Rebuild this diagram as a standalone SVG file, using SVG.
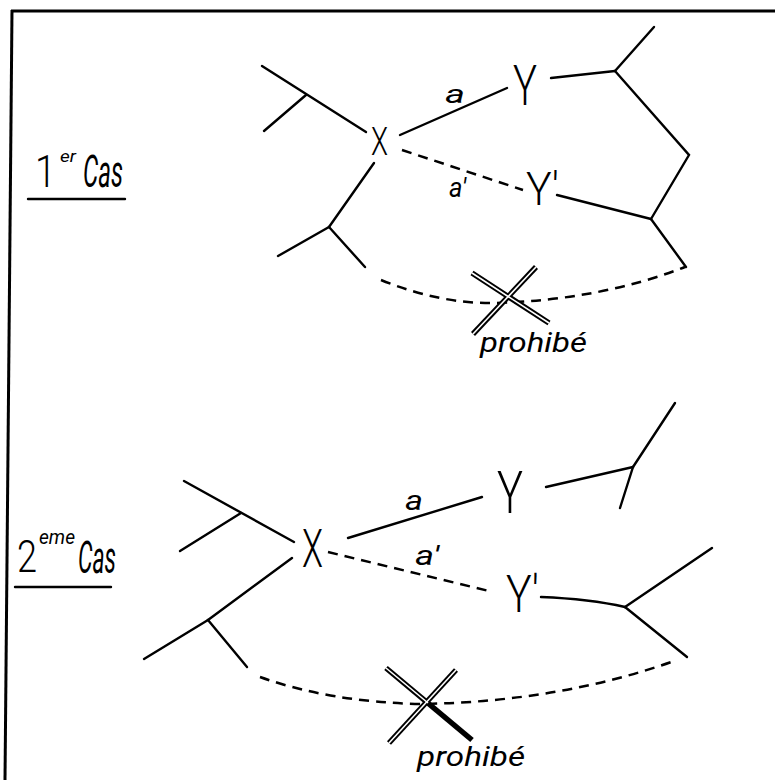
<svg xmlns="http://www.w3.org/2000/svg" width="775" height="780" viewBox="0 0 775 780">
<style>
.ln{stroke:#000;stroke-width:2.4;fill:none;stroke-linecap:round}
.ds{stroke:#000;stroke-width:2.5;fill:none;stroke-dasharray:10 7}
.cb{stroke:#000;stroke-width:5.5;fill:none}
.cw{stroke:#fff;stroke-width:1.6;fill:none}
.frame{stroke:#000;stroke-width:3;fill:none}
.lt{font-family:Roboto,"Open Sans","Liberation Sans",sans-serif;font-weight:300;fill:#000}
.hw{font-family:Roboto,"Open Sans","Liberation Sans",sans-serif;font-style:italic;font-weight:400;fill:#000}
</style>
<rect width="775" height="780" fill="#fff"/>
<g id="frame">
<line class="frame" x1="11" y1="11" x2="775" y2="11"/>
<line class="frame" x1="12" y1="10" x2="5" y2="780"/>
</g>

<g id="connectors">
<!-- case 1 -->
<line class="ln" x1="262" y1="66" x2="366" y2="132"/>
<line class="ln" x1="306" y1="95" x2="264" y2="131"/>
<line class="ln" x1="400" y1="135" x2="507" y2="88"/>
<line class="ln" x1="551" y1="78" x2="615" y2="71"/>
<line class="ln" x1="615" y1="71" x2="654" y2="27"/>
<polyline class="ln" points="615,71 689,155 651,219"/>
<line class="ln" x1="557" y1="195" x2="651" y2="219"/>
<line class="ln" x1="651" y1="219" x2="686" y2="267"/>
<line class="ds" x1="402" y1="150" x2="523" y2="190"/>
<line class="ln" x1="374" y1="163" x2="329" y2="227"/>
<line class="ln" x1="329" y1="227" x2="278" y2="256"/>
<line class="ln" x1="329" y1="227" x2="365" y2="267"/>
<path class="ds" d="M381,280 Q440,304 495,303 Q600,300 685,267"/>
<!-- case 2 -->
<line class="ln" x1="184" y1="481" x2="294" y2="542"/>
<line class="ln" x1="241" y1="513" x2="180" y2="551"/>
<line class="ln" x1="348" y1="538" x2="482" y2="497"/>
<line class="ln" x1="546" y1="487" x2="633" y2="467"/>
<line class="ln" x1="633" y1="467" x2="675" y2="403"/>
<line class="ln" x1="633" y1="467" x2="620" y2="508"/>
<path class="ln" d="M541,597 Q590,599 625,607"/>
<line class="ln" x1="625" y1="607" x2="712" y2="548"/>
<line class="ln" x1="625" y1="607" x2="687" y2="657"/>
<line class="ds" x1="328" y1="552" x2="493" y2="592"/>
<line class="ln" x1="292" y1="558" x2="208" y2="620"/>
<line class="ln" x1="208" y1="620" x2="144" y2="659"/>
<line class="ln" x1="208" y1="620" x2="247" y2="667"/>
<path class="ds" d="M260,677 Q330,702 420,704 Q560,702 677,660"/>
</g>

<g id="cross1">
<line class="cb" x1="472" y1="273" x2="549" y2="323"/>
<line class="cb" x1="536" y1="267" x2="473" y2="334"/>
<line class="cw" x1="472" y1="273" x2="549" y2="323"/>
<line class="cw" x1="536" y1="267" x2="473" y2="334"/>
</g>
<g id="cross2">
<line class="cb" x1="386" y1="668" x2="472" y2="740"/>
<line class="cb" x1="456" y1="670" x2="389" y2="743"/>
<line class="cw" x1="386" y1="668" x2="428" y2="703"/>
<line class="cw" x1="456" y1="670" x2="389" y2="743"/>
</g>

<g id="label-case1">
<text class="lt" x="35" y="187" font-size="45" textLength="21" lengthAdjust="spacingAndGlyphs">1</text>
<text class="hw" x="60" y="162" font-size="16" textLength="16" lengthAdjust="spacingAndGlyphs">er</text>
<text class="hw" x="83" y="187" font-size="44" textLength="40" lengthAdjust="spacingAndGlyphs">Cas</text>
<line class="ln" x1="28" y1="199" x2="125" y2="199"/>
</g>
<g id="label-case2">
<text class="lt" x="17" y="572" font-size="44" textLength="20" lengthAdjust="spacingAndGlyphs">2</text>
<text class="hw" x="39" y="544" font-size="20" textLength="36" lengthAdjust="spacingAndGlyphs">eme</text>
<text class="hw" x="78" y="573" font-size="44" textLength="38" lengthAdjust="spacingAndGlyphs">Cas</text>
<line class="ln" x1="15" y1="587" x2="111" y2="587"/>
</g>

<g id="node-X1"><text class="lt" x="371" y="155" font-size="39" textLength="17" lengthAdjust="spacingAndGlyphs">X</text></g>
<g id="node-Y1"><text class="lt" x="513" y="105" font-size="56" textLength="24" lengthAdjust="spacingAndGlyphs">Y</text></g>
<g id="node-Y1p"><text class="lt" x="526" y="205" font-size="46" textLength="33" lengthAdjust="spacingAndGlyphs">Y'</text></g>
<g id="label-a1"><text class="hw" x="445" y="103" font-size="26" textLength="20" lengthAdjust="spacingAndGlyphs">a</text></g>
<g id="label-a1p"><text class="hw" x="449" y="197" font-size="28" textLength="17" lengthAdjust="spacingAndGlyphs">a'</text></g>
<g id="label-prohibe1"><text class="hw" x="480" y="352" font-size="28" textLength="107" lengthAdjust="spacingAndGlyphs">prohibé</text></g>

<g id="node-X2"><text class="lt" x="302" y="567" font-size="54" textLength="21" lengthAdjust="spacingAndGlyphs">X</text></g>
<g id="node-Y2"><text class="lt" x="497" y="513" font-size="60" textLength="26" lengthAdjust="spacingAndGlyphs">Y</text></g>
<g id="node-Y2p"><text class="lt" x="506" y="612" font-size="52" textLength="33" lengthAdjust="spacingAndGlyphs">Y'</text></g>
<g id="label-a2"><text class="hw" x="405" y="510" font-size="28" textLength="18" lengthAdjust="spacingAndGlyphs">a</text></g>
<g id="label-a2p"><text class="hw" x="415" y="565" font-size="28" textLength="24" lengthAdjust="spacingAndGlyphs">a'</text></g>
<g id="label-prohibe2"><text class="hw" x="417" y="766" font-size="28" textLength="108" lengthAdjust="spacingAndGlyphs">prohibé</text></g>
</svg>
